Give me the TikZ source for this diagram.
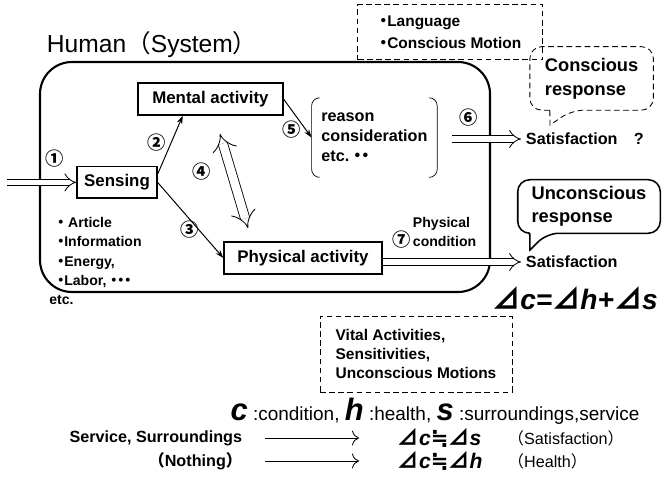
\documentclass[tikz,border=0pt]{standalone}
\usepackage{fontspec}
\setmainfont{Liberation Sans}
\newfontfamily\jp{Noto Sans CJK JP}
\newfontfamily\dv{DejaVu Sans}
\usetikzlibrary{arrows.meta,positioning,calc}
\newcommand{\kdot}{\hspace*{-0.25em}{\jp ・}\hspace{-0.25em}}
\newcommand{\bigvar}[1]{{\fontsize{22}{22}\selectfont\bfseries\itshape #1}}
\newcommand{\tri}{{\jp\upshape ⊿}}
\newcommand{\nearly}{{\dv\upshape ≒}}

\begin{document}
\begin{tikzpicture}[
    box/.style={rectangle, draw, line width=0.9pt, minimum height=0.8cm, font=\fontsize{12}{14}\selectfont\bfseries},
    note/.style={rectangle, draw, dashed, dash pattern=on 4pt off 2.5pt, line width=0.6pt, align=left, font=\fontsize{11}{13.8}\selectfont\bfseries},
    num/.style={font=\jp\bfseries\fontsize{13}{13}\selectfont},
    txt/.style={font=\fontsize{11.5}{14}\selectfont\bfseries},
    bubble/.style={align=left, font=\fontsize{13}{17}\selectfont\bfseries},
    hollow/.style={double, double distance=4pt, line width=0.6pt, -{Implies}},
    link/.style={line width=0.7pt, -{Stealth[length=6pt,width=4pt]}},
    plain/.style={line width=0.6pt, -{To[length=5pt]}}
]
\useasboundingbox (0,0) rectangle (16.55,-12.05);

% Human (System)
\node[anchor=west, font=\fontsize{17.5}{20}\selectfont] (title) at (1.05,-1.125) {Human{\jp （}System{\jp ）}};
\node[draw, line width=1.5pt, rounded corners=0.8cm, minimum width=11.25cm, minimum height=5.75cm] (human) at (6.625,-4.425) {};

% activities
\node[box, minimum width=3.625cm] (mental) at (5.26,-2.475) {Mental activity};
\node[box, minimum width=2cm, minimum height=0.78cm] (sensing) at (2.925,-4.56) {Sensing};
\node[box, minimum width=3.95cm] (physical) at (7.575,-6.45) {Physical activity};
\node[align=left, minimum width=3.125cm, minimum height=1.975cm, font=\fontsize{11.5}{14.2}\selectfont\bfseries] (reason) at (9.36,-3.44) {reason\\consideration\\etc.{\jp ・}\hspace{-0.5em}{\jp ・}};
\draw[line width=0.5pt, rounded corners=0.2cm] ([xshift=0.2cm]reason.north west) -- (reason.north west) -- (reason.south west) -- ([xshift=0.2cm]reason.south west);
\draw[line width=0.5pt, rounded corners=0.2cm] ([xshift=-0.2cm]reason.north east) -- (reason.north east) -- (reason.south east) -- ([xshift=-0.2cm]reason.south east);

% inputs
\node[anchor=north west, align=left, inner sep=0pt, font=\fontsize{10}{13.8}\selectfont\bfseries] (inputs) at (1.425,-5.42) {\kdot\ Article\\\kdot Information\\\kdot Energy,\\\kdot Labor, \kdot\kdot\kdot\\\hspace*{-0.2cm}etc.};
\node[anchor=west, align=left, font=\fontsize{10}{14}\selectfont\bfseries] (cond) at (10.2,-5.8) {Physical\\condition};

% numbers
\node[num] (n1) at (1.375,-3.975) {①};
\node[num] (n2) at (3.925,-3.575) {②};
\node[num] (n3) at (4.75,-5.75) {③};
\node[num] (n4) at (5.05,-4.3) {④};
\node[num] (n5) at (7.3,-3.25) {⑤};
\node[num] (n6) at (11.725,-2.95) {⑥};
\node[num] (n7) at (10.05,-6.0) {⑦};

% responses
\node[txt, anchor=west] (sat1) at (13.025,-3.475) {Satisfaction\quad ?};
\node[txt, anchor=west] (sat2) at (13.025,-6.55) {Satisfaction};
\node[note, minimum width=4.625cm, minimum height=1.375cm, font=\fontsize{11}{16}\selectfont\bfseries] (lang) at (11.26,-0.81) {\kdot Language\\\kdot Conscious Motion};
\node[bubble, minimum width=3.075cm, minimum height=1.575cm] (cons) at (14.79,-1.96) {Conscious\\response};
\coordinate (constip) at (13.75,-3.125);
\draw[dashed, dash pattern=on 4pt off 2.5pt, line width=0.6pt, rounded corners=0.3cm] ([xshift=0.5cm]cons.south west) -- (cons.south west) -- (cons.north west) -- (cons.north east) -- (cons.south east) -- ([xshift=1.05cm]cons.south west) [sharp corners] -- (constip) -- ([xshift=0.5cm]cons.south west);
\node[bubble, minimum width=3.55cm, minimum height=1.325cm, font=\fontsize{13}{16.3}\selectfont\bfseries] (uncon) at (14.725,-5.1625) {Unconscious\\response};
\coordinate (untip) at (13.25,-6.25);
\draw[line width=1.1pt, rounded corners=0.3cm] ([xshift=0.3cm]uncon.south west) -- (uncon.south west) -- (uncon.north west) -- (uncon.north east) -- (uncon.south east) -- ([xshift=0.725cm]uncon.south west) [sharp corners] -- (untip) -- ([xshift=0.3cm]uncon.south west);
\node[font=\fontsize{20}{20}\selectfont\bfseries\itshape] (deltaeq) at (14.375,-7.45) {\tri c=\tri h+\tri s};

% connectors
\coordinate (in) at (0.175,-4.56);
\draw[hollow] (in) -- (in -| sensing.west);
\draw[link] ([yshift=-0.2cm]sensing.north east) -- ([xshift=-0.69cm]mental.south);
\draw[link] (sensing.east) -- (physical.west);
\draw[link] (mental.east) -- (reason.west);
\coordinate (up) at (5.5,-3.35);
\coordinate (down) at (6.2,-5.7);
\draw[hollow, double distance=6pt, {Implies}-{Implies}] (up) -- (down);
\draw[hollow, shorten <=0.375cm] (reason.east |- sat1.west) -- (sat1.west);
\draw[hollow] (physical.east |- sat2.west) -- (sat2.west);

% unconscious part
\node[note, minimum width=4.8cm, minimum height=1.9cm] (vital) at (10.4,-8.85) {Vital Activities,\\Sensitivities,\\Unconscious Motions};
\node[font=\fontsize{13.5}{16}\selectfont] (legend) at (10.875,-10.275) {\bigvar{c} :condition, \bigvar{h} :health, \bigvar{s} :surroundings,service};

% cases
\node[txt, anchor=east] (svc) at (6.175,-10.95) {Service, Surroundings};
\node[txt, anchor=east] (none) at (6.175,-11.525) {{\jp （}Nothing{\jp ）}};
\node[anchor=west, font=\fontsize{15}{15}\selectfont\bfseries\itshape] (eqs) at (9.825,-10.95) {\tri c\nearly\tri s};
\node[anchor=west, font=\fontsize{15}{15}\selectfont\bfseries\itshape] (eqh) at (9.825,-11.525) {\tri c\nearly\tri h};
\node[anchor=west, font=\fontsize{11.5}{14}\selectfont] (sats) at (12.575,-10.95) {{\jp （}Satisfaction{\jp ）}};
\node[anchor=west, font=\fontsize{11.5}{14}\selectfont] (hlth) at (12.575,-11.525) {{\jp （}Health{\jp ）}};
\draw[plain, shorten <=0.45cm, shorten >=0.85cm] (svc.east) -- (svc.east -| eqs.west);
\draw[plain, shorten <=0.45cm, shorten >=0.85cm] (none.east) -- (none.east -| eqh.west);

\end{tikzpicture}
\end{document}
